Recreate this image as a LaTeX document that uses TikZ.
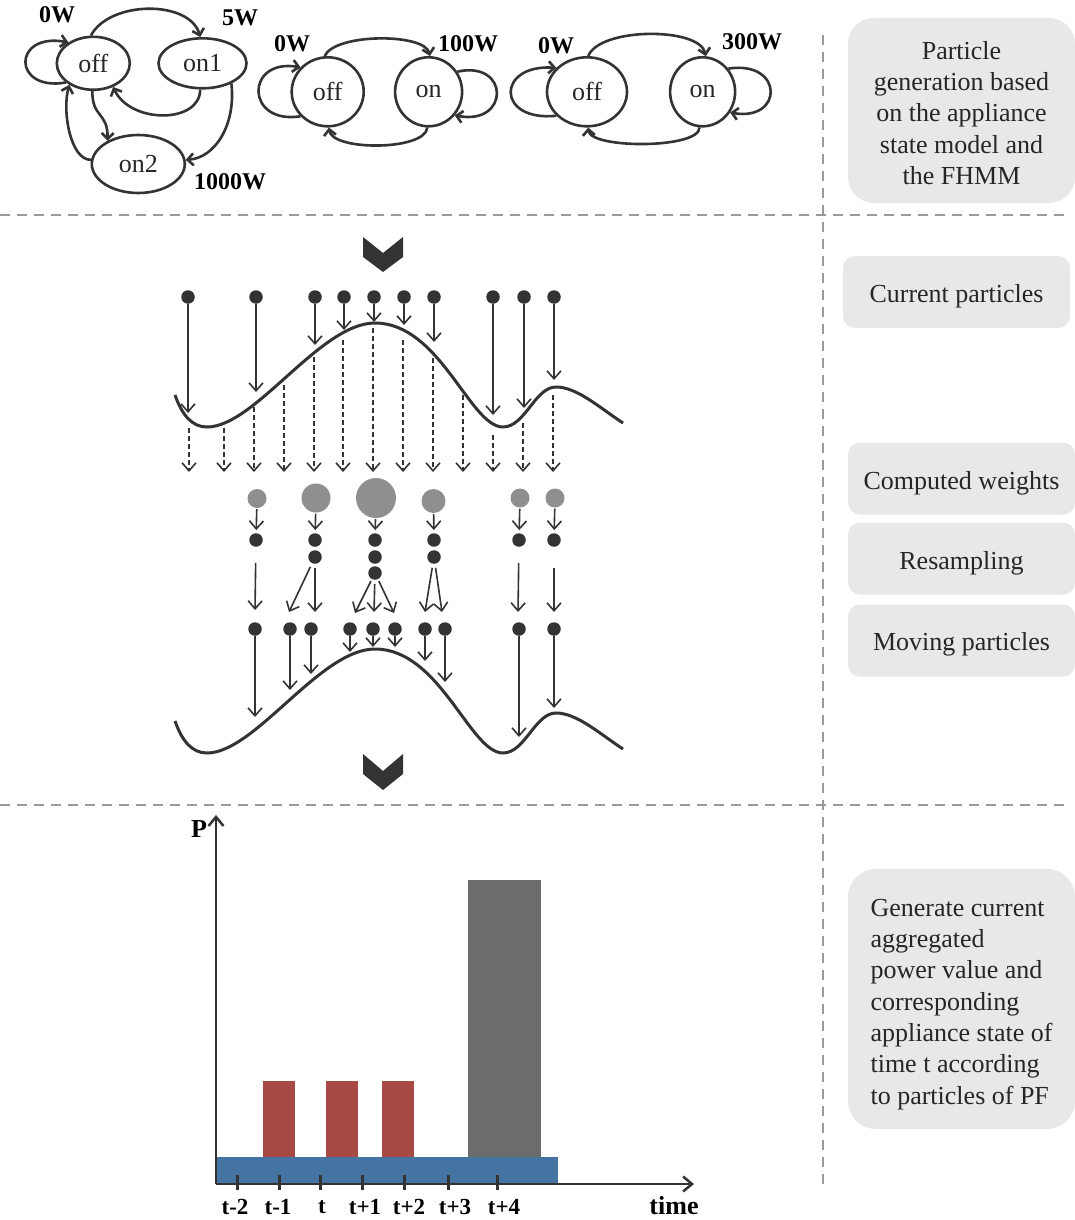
\documentclass[tikz,border=0pt]{standalone}
\usepackage{fontspec}
\setmainfont{Liberation Serif}
\usetikzlibrary{arrows.meta,shapes.geometric}
\definecolor{ink}{HTML}{333333}
\definecolor{sepgray}{HTML}{9A9A9A}
\definecolor{boxgray}{HTML}{E8E8E8}
\definecolor{wgray}{HTML}{8F8F8F}
\definecolor{barred}{HTML}{A84A44}
\definecolor{barblue}{HTML}{4573A2}
\definecolor{bargray}{HTML}{6C6C6C}
\definecolor{txt}{HTML}{262626}
\begin{document}
\begin{tikzpicture}[x=1pt,y=-1pt,
  state/.style={ellipse, draw=ink, line width=2.6pt, inner sep=0pt, text=txt, font=\fontsize{26}{26}\selectfont},
  watt/.style={font=\bfseries\fontsize{24}{24}\selectfont, inner sep=0pt, text=black},
  sarr/.style={draw=ink, line width=2.6pt, -{Straight Barb[length=6pt,width=12pt]}},
  dot/.style={circle, fill=ink, inner sep=0pt, minimum size=13.5pt},
  wdot/.style={circle, fill=wgray, inner sep=0pt},
  parr/.style={draw=ink, line width=1.6pt, -{Straight Barb[length=8pt,width=14pt]}},
  darr/.style={parr, dash pattern=on 5pt off 3pt},
  wave/.style={draw=ink, line width=3pt},
  sepline/.style={draw=sepgray, line width=2.5pt, dash pattern=on 10pt off 7pt},
  box/.style={fill=boxgray, text=txt, inner sep=0pt, font=\fontsize{26}{31.3}\selectfont, minimum width=227pt},
  sbox/.style={box, minimum height=72pt, rounded corners=12pt, text height=27pt},
  axarr/.style={draw=ink, line width=2.5pt, -{Straight Barb[length=9pt,width=15pt]}},
  tickmark/.style={draw=ink, line width=3pt},
  axlabel/.style={font=\bfseries\fontsize{26}{26}\selectfont, inner sep=0pt, text=black},
  ticklabel/.style={font=\bfseries\fontsize{23}{23}\selectfont, inner sep=0pt, text=black}
]
\useasboundingbox (0,0) rectangle (1075,1220);

% separators
\draw[sepline] (0,215) -- (1070,215);
\draw[sepline] (0,805) -- (1070,805);
\draw[sepline] (823,35) -- (823,1190);

% ---------- state diagram 1
\node[state, minimum width=73pt, minimum height=53pt] (off1) at (93.3,63.3) {off};
\node[state, minimum width=88pt, minimum height=50pt] (on1) at (202.5,63.3) {on1};
\node[state, minimum width=93pt, minimum height=58pt] (on2) at (138.3,164) {on2};
\draw[sarr] (off1.215) .. controls (12,92) and (12,32) .. (off1.140);
\draw[sarr] (on2.175) .. controls (70,160) and (62,110) .. (off1.222);
\draw[sarr] (off1.268) .. controls (92,118) and (108,112) .. (on2.143);
\draw[sarr] (off1.95) .. controls (110,0) and (190,0) .. (on1.95);
\draw[sarr] (on1.265) .. controls (200,124) and (130,124) .. (off1.-50);
\draw[sarr] (on1.-35) .. controls (236,125) and (215,158) .. (on2.5);
\node[watt] (w0a) at (57,15) {0W};
\node[watt] (w5a) at (240,18) {5W};
\node[watt] (w1000) at (230,182) {1000W};

% ---------- state diagram 2
\node[state, minimum width=72pt, minimum height=69pt] (offA) at (327.7,91.8) {off};
\node[state, minimum width=67pt, minimum height=69pt] (onA) at (428.6,91.8) {on};
\draw[sarr] (offA.222) .. controls (245,125) and (245,58) .. (offA.138);
\draw[sarr] (onA.35) .. controls (510,60) and (510,126) .. (onA.-42);
\draw[sarr] (offA.95) .. controls (335,33) and (425,33) .. (onA.88);
\draw[sarr] (onA.268) .. controls (425,151) and (332,151) .. (offA.272);
\node[watt] (w0b) at (292,43.6) {0W};
\node[watt] (w100) at (468,43.6) {100W};

% ---------- state diagram 3
\node[state, minimum width=80pt, minimum height=69pt] (offB) at (587,91.8) {off};
\node[state, minimum width=65pt, minimum height=69pt] (onB) at (702.6,91.8) {on};
\draw[sarr] (offB.218) .. controls (496,122) and (496,64) .. (offB.142);
\draw[sarr] (onB.42) .. controls (784,60) and (784,122) .. (onB.-37);
\draw[sarr] (offB.88) .. controls (600,27) and (700,27) .. (onB.85);
\draw[sarr] (onB.265) .. controls (700,149) and (590,149) .. (offB.272);
\node[watt] (w0c) at (556,45.3) {0W};
\node[watt] (w300) at (752,42) {300W};

% ---------- right boxes
\node[box, minimum height=185pt, rounded corners=26pt] (b1) at (961.5,110.5)
  {\raisebox{-5pt}[\height][\depth]{\begin{tabular}{@{}c@{}}Particle\\generation based\\on the appliance\\state model and\\the FHMM\end{tabular}}};
\node[sbox] (b2) at (956.5,292) {Current particles};
\node[sbox] (b3) at (961.5,478.5) {Computed weights};
\node[sbox] (b4) at (961.5,558.5) {Resampling};
\node[sbox, text height=25pt] (b5) at (961.5,640.5) {Moving particles};
\node[box, minimum height=260pt, rounded corners=28pt] (b6) at (961.5,999)
  {\raisebox{-5pt}[\height][\depth]{\begin{tabular}{@{}l@{}}Generate current\\aggregated\\power value and\\corresponding\\appliance state of\\time t according\\to particles of PF\end{tabular}}};

% ---------- chevrons
\fill[ink] (363,237) -- (383,253) -- (403,237) -- (403,257) -- (383,272) -- (363,257) -- cycle;
\fill[ink] (363,754) -- (383,771) -- (403,754) -- (403,774) -- (383,790) -- (363,774) -- cycle;

% ---------- waves
\foreach \dy in {0,326}{
  \begin{scope}[shift={(0,\dy)}]
    \draw[wave] (175,395) .. controls (182,415) and (192,427) .. (207,427)
      .. controls (255,427) and (320,323) .. (375,323)
      .. controls (440,323) and (470,427) .. (503,427)
      .. controls (525,427) and (535,387) .. (556,387)
      .. controls (577,387) and (600,408) .. (623,423);
  \end{scope}
}

% ---------- current particles
\foreach \i/\x/\t in {1/188/413,2/256/392,3/315/345,4/344/330,5/374/322,6/404/325,7/434/342,8/493/415,9/524/408,10/554/380}{
  \node[dot] (p\i) at (\x,297) {};
  \coordinate (pe\i) at (\x,\t);
  \draw[parr] (p\i) -- (pe\i);
}
\foreach \i/\x/\s in {1/189/428,2/224/428,3/254/407,4/284/385,5/314/357,6/343/340,7/373/328,8/403/340,9/433/358,10/463/395,11/493/435,12/523/423,13/553/395}{
  \coordinate (ds\i) at (\x,\s);
  \coordinate (de\i) at (\x,472);
  \draw[darr] (ds\i) -- (de\i);
}

% ---------- weights
\foreach \i/\x/\y/\d in {1/257/498.5/19,2/316/498/29,3/376/498/40,4/433.5/501/24,5/520/498/19,6/555/498/19}{
  \node[wdot, minimum size=\d pt] (w\i) at (\x,\y) {};
}
\foreach \i/\x in {1/256,2/315,3/375,4/434,5/519,6/554}{
  \node[dot] (r\i) at (\x,540) {};
}
\node[dot] (r2b) at (315,557) {};
\node[dot] (r3b) at (375,557) {};
\node[dot] (r4b) at (434,557) {};
\node[dot] (r3c) at (375,573) {};
\foreach \i in {1,...,6}{
  \draw[parr, shorten <=1pt, shorten >=3pt] (w\i) -- (r\i);
}

% ---------- resampling
\foreach \j/\s/\x/\y/\k in {1/r1/255/610/16,2/r2b/289/612/4,3/r2b/315/612/4,4/r3c/355/613/2,5/r3c/374/612/4,6/r3c/394/613/2,7/r4b/425/612/4,8/r4b/442/612/4,9/r5/518/612/16,10/r6/554/612/21}{
  \coordinate (rt\j) at (\x,\y);
  \draw[parr, shorten <=\k pt] (\s) -- (rt\j);
}

% ---------- moving particles
\foreach \i/\x/\t in {1/255/717,2/290/690,3/311/674,4/350/652,5/373/647,6/395/647,7/425/661,8/445/682,9/519/737,10/554/708}{
  \node[dot] (m\i) at (\x,629) {};
  \coordinate (mt\i) at (\x,\t);
  \draw[parr] (m\i) -- (mt\i);
}

% ---------- bar chart
\fill[barblue] (216,1157) rectangle (558,1183);
\fill[barred] (263,1081) rectangle (295,1157);
\fill[barred] (326,1081) rectangle (358,1157);
\fill[barred] (382,1081) rectangle (414,1157);
\fill[bargray] (468,880) rectangle (541,1157);
\coordinate (O) at (216,1184);
\coordinate (Ytop) at (216,815);
\coordinate (Xend) at (694,1184);
\draw[axarr] (O) -- (Ytop);
\draw[axarr] (O) -- (Xend);
\foreach \x in {237.5,279,320.5,362.5,404.5,448,497}{
  \draw[tickmark] (\x,1175) -- (\x,1190);
}
\node[axlabel] (P) at (199,829) {P};
\node[axlabel] (time) at (674,1206) {time};
\foreach \i/\x/\l in {1/235/t-2,2/278/t-1,3/322/t,4/365/t+1,5/409/t+2,6/455/t+3,7/504/t+4}{
  \node[ticklabel] (tl\i) at (\x,1207) {\l};
}
\end{tikzpicture}
\end{document}
